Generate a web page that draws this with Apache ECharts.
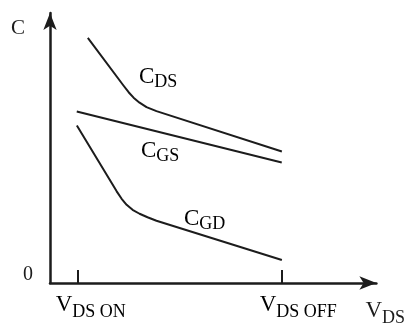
<!DOCTYPE html>
<html><head><meta charset="utf-8">
<script src="https://cdn.jsdelivr.net/npm/echarts@6/dist/echarts.min.js"></script>
<style>html,body{margin:0;padding:0;background:#fff}#c{width:408px;height:327px}</style>
</head><body><div id="c"></div>
<script>
// data (arbitrary units)
const cdsX = [11.59, 22.56, 24.09, 25.61, 27.44, 29.57, 32.62, 71.04];
const cdsY = [90.77, 73.06, 70.66, 68.63, 66.79, 65.13, 63.65, 48.71];
const cgsX = [8.2, 71.0];
const cgsY = [63.5, 44.6];
const cgdX = [8.23, 20.43, 21.95, 23.48, 25.30, 27.44, 29.88, 32.62, 71.04];
const cgdY = [58.30, 33.95, 31.18, 28.97, 27.12, 25.65, 24.35, 23.06, 8.49];
const tickValues = [8.5, 71];
const tickLabels = [['V', 'DS ON'], ['V', 'DS OFF']];
const curveNames = [['C', 'DS'], ['C', 'GS'], ['C', 'GD']];
const yTickLabels = ['0'];
const xName = ['V', 'DS'];
const yName = 'C';

const FONT = '"Liberation Serif", "DejaVu Serif", serif';
const INK = '#1c1c1c';
const pair = (xs, ys) => xs.map((x, i) => [x, ys[i]]);

const chart = echarts.init(document.getElementById('c'), null, {renderer: 'canvas'});
const lineStyle = {color: INK, width: 2, join: 'round'};
const richMain = {
  m: {fontFamily: FONT, fontSize: 23, color: INK, verticalAlign: 'top'},
  s: {fontFamily: FONT, fontSize: 18, color: INK, verticalAlign: 'top', padding: [10, 0, 0, 0]}
};
const option = {
  animation: false,
  backgroundColor: '#fff',
  grid: {left: 50, right: 30, top: 13, bottom: 43, containLabel: false},
  xAxis: {
    type: 'value', min: 0, max: 100,
    name: '{m|' + xName[0] + '}{s|' + xName[1] + '}',
    nameLocation: 'end', nameGap: -11,
    nameTextStyle: {rich: richMain, verticalAlign: 'top', align: 'left', padding: [16, 0, 0, 0]},
    axisLine: {lineStyle: {color: INK, width: 2.5}, symbol: ['none', 'arrow'], symbolSize: [10, 17]},
    axisTick: {show: true, inside: true, length: 13, customValues: tickValues, lineStyle: {color: INK, width: 2}},
    axisLabel: {show: false},
    splitLine: {show: false}
  },
  yAxis: {
    type: 'value', min: 0, max: 100,
    name: yName, nameLocation: 'end', nameGap: -5,
    nameTextStyle: {fontFamily: FONT, fontSize: 21, color: INK, align: 'right', verticalAlign: 'top', padding: [0, 25, 0, 0]},
    axisLine: {show: true, lineStyle: {color: INK, width: 2.5}, symbol: ['none', 'arrow'], symbolSize: [10, 17]},
    axisTick: {show: false},
    axisLabel: {show: true, customValues: [0], formatter: () => yTickLabels[0], margin: 17,
      fontFamily: FONT, fontSize: 20, color: INK, verticalAlign: 'bottom', padding: [0, 0, -2, 0]},
    splitLine: {show: false}
  },
  series: [
    {type: 'line', data: pair(cdsX, cdsY), showSymbol: false, lineStyle},
    {type: 'line', data: pair(cgsX, cgsY), showSymbol: false, lineStyle},
    {type: 'line', data: pair(cgdX, cgdY), showSymbol: false, lineStyle}
  ]
};
chart.setOption(option);

// labels positioned from the axis scale
const richLbl = {
  m: {fontFamily: FONT, fontSize: 23, color: INK, verticalAlign: 'top'},
  s: {fontFamily: FONT, fontSize: 18, color: INK, verticalAlign: 'top', padding: [8, 0, 0, 0]}
};
const graphics = [];
tickValues.forEach((v, i) => {
  const p = chart.convertToPixel({gridIndex: 0}, [v, 0]);
  graphics.push({type: 'text', x: p[0] - 22, y: p[1] + 10,
    style: {text: '{m|' + tickLabels[i][0] + '}{s|' + tickLabels[i][1] + '}', rich: richMain}});
});
const curveLabelPos = [[139, 65], [141, 139], [184, 207]];
curveNames.forEach((c, i) => {
  graphics.push({type: 'text', x: curveLabelPos[i][0], y: curveLabelPos[i][1],
    style: {text: '{m|' + c[0] + '}{s|' + c[1] + '}', rich: richLbl}});
});
chart.setOption({graphic: graphics});
</script></body></html>
